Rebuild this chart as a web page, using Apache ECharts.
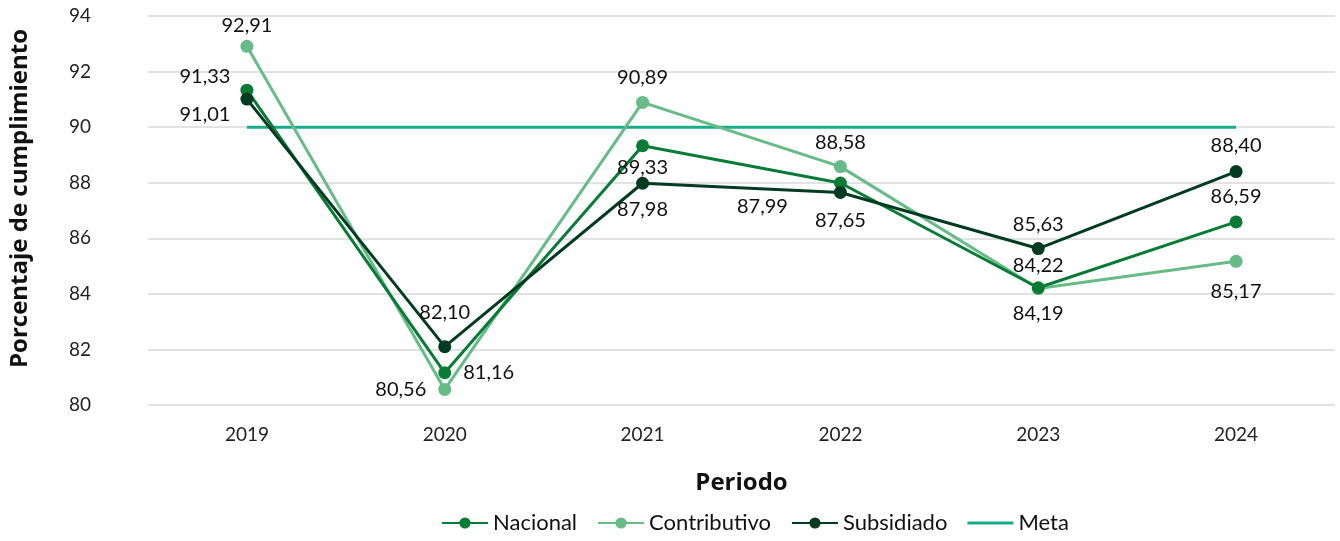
<!DOCTYPE html>
<html><head><meta charset="utf-8">
<script src="https://cdn.jsdelivr.net/npm/echarts@6/dist/echarts.min.js"></script>
<style>html,body{margin:0;padding:0;background:#fff}#c{width:1340px;height:541px}</style>
</head><body><div id="c"></div>
<script>
const categories = ['2019','2020','2021','2022','2023','2024'];
const nacional = [91.33, 81.16, 89.33, 87.99, 84.22, 86.59];
const contributivo = [92.91, 80.56, 90.89, 88.58, 84.19, 85.17];
const subsidiado = [91.01, 82.10, 87.98, 87.65, 85.63, 88.40];
const meta = [90, 90, 90, 90, 90, 90];

// label placement per point (style only)
const posNac = [['left',[-2,-14]],['right',[4,0]],['bottom',[0,-3]],['left',[-38,24]],['top',[0,2]],['top',[0,-1]]];
const posCon = [['top',[0,4]],['left',[-4,0]],['top',[0,0]],['top',[0,0]],['bottom',[0,0]],['bottom',[0,6]]];
const posSub = [['left',[-2,15]],['top',[0,-10]],['bottom',[0,2]],['bottom',[0,4]],['top',[0,0]],['top',[0,-2]]];

const fmt = v => v.toFixed(2).replace('.', ',');
function build(vals, pos){
  return vals.map((v,i)=>({value:v,label:{position:pos[i][0],offset:pos[i][1]}}));
}
const font = 'Lato, "Open Sans", sans-serif';
const tfont = '"Open Sans", Lato, sans-serif';
function series(name, vals, pos, color){
  return {name, type:'line', data:build(vals,pos), symbol:'circle', symbolSize:13,
    lineStyle:{width:3,color}, itemStyle:{color},
    label:{show:true, formatter:p=>fmt(p.value), fontSize:20, color:'#111', fontFamily:font, distance:8},
    emphasis:{disabled:true}, z:3};
}
const chart = echarts.init(document.getElementById('c'));
chart.setOption({
  animation:false,
  textStyle:{fontFamily:font},
  grid:{left:148,right:5,top:16,bottom:136},
  legend:{bottom:2,left:436,itemWidth:46,itemHeight:14,itemGap:20,symbolKeepAspect:true,
    textStyle:{fontSize:22,color:'#111',fontFamily:font},
    data:['Nacional','Contributivo','Subsidiado',
      {name:'Meta',icon:'path://M0,0 L46,0 L46,3 L0,3 Z'}]},
  xAxis:{type:'category',data:categories,boundaryGap:true,
    name:'Periodo',nameLocation:'middle',nameGap:66,
    nameTextStyle:{fontSize:24,fontWeight:'bold',color:'#111',fontFamily:tfont},
    axisLine:{show:false},axisTick:{show:false},
    axisLabel:{fontSize:19,color:'#222',margin:20,fontFamily:font}},
  yAxis:{type:'value',min:80,max:94,interval:2,
    name:'Porcentaje de cumplimiento',nameLocation:'middle',nameGap:116,nameRotate:90,
    nameTextStyle:{fontSize:24,fontWeight:'bold',color:'#111',fontFamily:tfont,padding:[0,0,0,24]},
    axisLabel:{fontSize:19,color:'#222',margin:68,align:'center',fontFamily:font},
    splitLine:{lineStyle:{color:'#d9d9d9',width:1.5}}},
  series:[
    {name:'Meta',type:'line',data:meta,symbol:'none',lineStyle:{width:3,color:'#17ad86'},itemStyle:{color:'#17ad86'},z:1,emphasis:{disabled:true}},
    series('Contributivo',contributivo,posCon,'#66bb87'),
    series('Nacional',nacional,posNac,'#097b36'),
    series('Subsidiado',subsidiado,posSub,'#033b22')
  ]
});
</script></body></html>
